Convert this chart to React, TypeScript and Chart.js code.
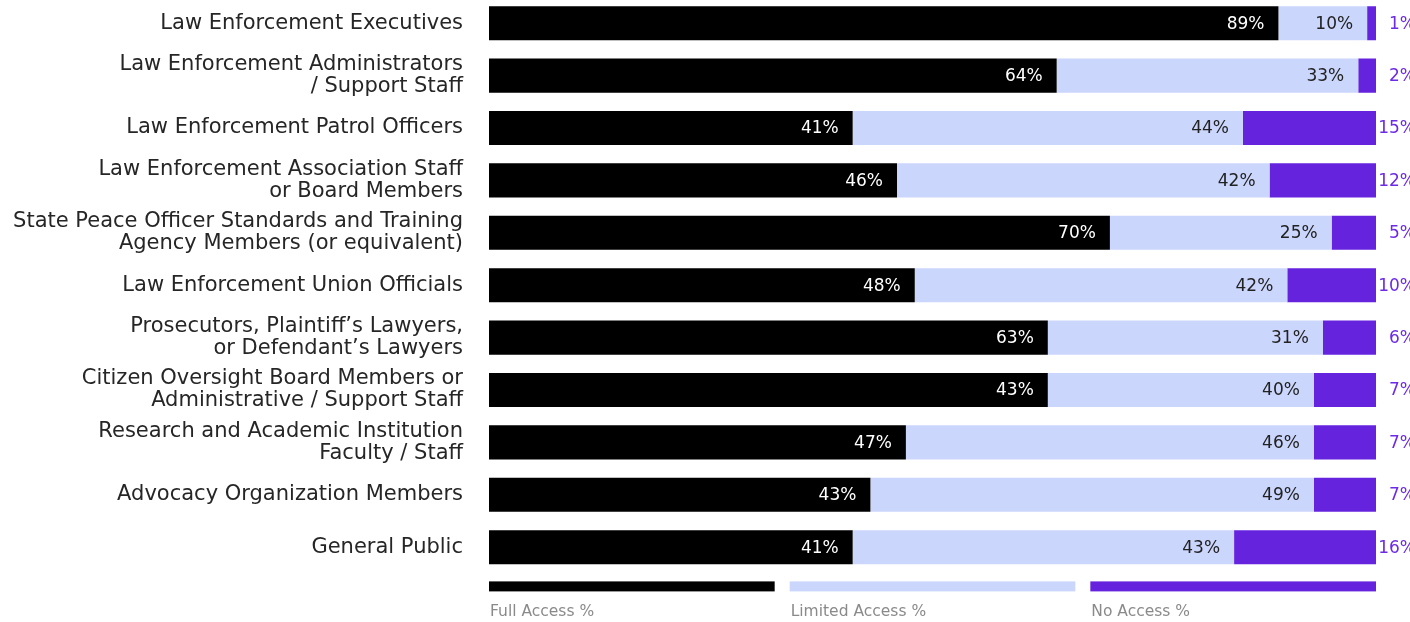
import React, { useEffect, useRef } from "react";
import { Chart, registerables } from "chart.js";

Chart.register(...registerables);

const categories: string[][] = [
  ["Law Enforcement Executives"],
  ["Law Enforcement Administrators", "/ Support Staff"],
  ["Law Enforcement Patrol Officers"],
  ["Law Enforcement Association Staff", "or Board Members"],
  ["State Peace Officer Standards and Training", "Agency Members (or equivalent)"],
  ["Law Enforcement Union Officials"],
  ["Prosecutors, Plaintiff\u2019s Lawyers,", "or Defendant\u2019s Lawyers"],
  ["Citizen Oversight Board Members or", "Administrative / Support Staff"],
  ["Research and Academic Institution", "Faculty / Staff"],
  ["Advocacy Organization Members"],
  ["General Public"],
];

const seriesNames = ["Full Access %", "Limited Access %", "No Access %"];

// bar lengths as drawn
const fullAccess = [89, 64, 41, 46, 70, 48, 63, 63, 47, 43, 41];
const limitedAccess = [10, 34, 44, 42, 25, 42, 31, 30, 46, 50, 43];
const noAccess = [1, 2, 15, 12, 5, 10, 6, 7, 7, 7, 16];

// value labels as printed
const fullLabels = [89, 64, 41, 46, 70, 48, 63, 43, 47, 43, 41];
const limitedLabels = [10, 33, 44, 42, 25, 42, 31, 40, 46, 49, 43];
const noLabels = [1, 2, 15, 12, 5, 10, 6, 7, 7, 7, 16];

const COLORS = ["#000000", "#CBD6FC", "#6523DE"];
const LABEL_COLORS = ["#FFFFFF", "#222222", "#6D2BE6"];
const FONT = "'DejaVu Sans', sans-serif";

const SHIFT = 53; // canvas is moved up so the plot band starts just above the page top

const valueLabelPlugin = {
  id: "valueLabels",
  afterDatasetsDraw(chart: any) {
    const ctx = chart.ctx;
    const labelSets = [fullLabels, limitedLabels, noLabels];
    ctx.save();
    ctx.font = `17px ${FONT}`;
    ctx.textBaseline = "middle";
    ctx.textAlign = "right";
    chart.data.datasets.forEach((_: any, di: number) => {
      const meta = chart.getDatasetMeta(di);
      meta.data.forEach((bar: any, i: number) => {
        const text = labelSets[di][i] + "%";
        ctx.fillStyle = LABEL_COLORS[di];
        const x = di === 2 ? chart.chartArea.right + 40 : bar.x - 14;
        ctx.fillText(text, x, bar.y + 1);
      });
    });
    ctx.restore();
  },
};

const legendPlugin = {
  id: "bottomLegend",
  afterDraw(chart: any) {
    const ctx = chart.ctx;
    const { left, right, bottom } = chart.chartArea;
    const gap = 15;
    const w = (right - left - 2 * gap) / 3;
    ctx.save();
    chart.data.datasets.forEach((ds: any, i: number) => {
      const x = left + i * (w + gap);
      ctx.fillStyle = ds.backgroundColor;
      ctx.fillRect(x, bottom + 8, w, 10);
      ctx.fillStyle = "#8a8a8a";
      ctx.font = `15.5px ${FONT}`;
      ctx.textAlign = "left";
      ctx.textBaseline = "alphabetic";
      ctx.fillText(ds.label, x + 1, bottom + 43);
    });
    ctx.restore();
  },
};

export default function App() {
  const ref = useRef<HTMLCanvasElement | null>(null);

  useEffect(() => {
    if (!ref.current) return;
    const chart = new Chart(ref.current, {
      type: "bar",
      data: {
        labels: categories,
        datasets: [
          { label: seriesNames[0], data: fullAccess, backgroundColor: COLORS[0] },
          { label: seriesNames[1], data: limitedAccess, backgroundColor: COLORS[1] },
          { label: seriesNames[2], data: noAccess, backgroundColor: COLORS[2] },
        ],
      },
      options: {
        indexAxis: "y",
        animation: false,
        responsive: false,
        maintainAspectRatio: false,
        layout: { padding: { top: SHIFT - 3, right: 34, bottom: 48.6, left: 0 } },
        datasets: {
          bar: { categoryPercentage: 1, barPercentage: 0.65, borderWidth: 0 },
        },
        plugins: {
          legend: { display: false },
          tooltip: { enabled: false },
        },
        scales: {
          x: {
            stacked: true,
            min: 0,
            max: 100,
            display: false,
          },
          y: {
            stacked: true,
            grid: { display: false, drawTicks: false },
            border: { display: false },
            ticks: {
              padding: 26,
              color: "#262626",
              font: { family: FONT, size: 21, lineHeight: 1.05 },
            },
            afterFit(scale: any) {
              scale.width = 489;
            },
          },
        },
      },
      plugins: [valueLabelPlugin, legendPlugin],
    });
    return () => chart.destroy();
  }, []);

  return (
    <div style={{ position: "fixed", left: 0, top: -SHIFT, width: 1410, height: 622 + SHIFT, background: "#fff" }}>
      <canvas
        ref={ref}
        width={1410}
        height={622 + SHIFT}
        style={{ display: "block", width: 1410, height: 622 + SHIFT }}
      />
    </div>
  );
}
